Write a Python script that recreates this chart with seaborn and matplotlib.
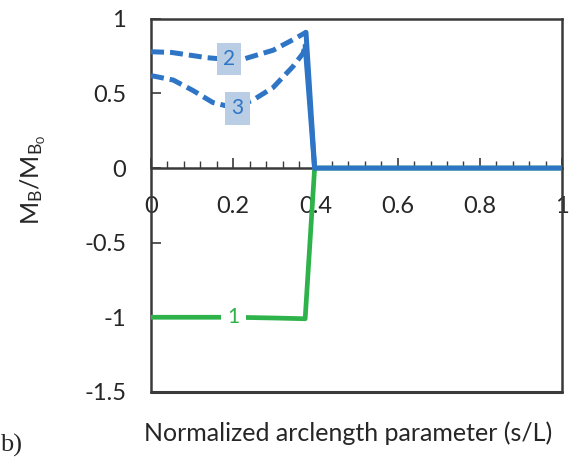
import numpy as np
import pandas as pd
import matplotlib
matplotlib.use("Agg")
import matplotlib.pyplot as plt
import seaborn as sns
from matplotlib.ticker import MultipleLocator

# curve data (s/L, M_B/M_B0)
s1 = [0.0, 0.1, 0.2, 0.3, 0.375, 0.398, 1.0]
m1 = [-1.0, -1.0, -1.0, -1.005, -1.01, 0.0, 0.0]

s2 = [0.0, 0.05, 0.136, 0.2, 0.224, 0.297, 0.345, 0.377]
m2 = [0.78, 0.775, 0.74, 0.725, 0.73, 0.79, 0.86, 0.91]

s3 = [0.0, 0.054, 0.102, 0.15, 0.2, 0.248, 0.297, 0.345, 0.37, 0.375]
m3 = [0.62, 0.59, 0.52, 0.44, 0.405, 0.456, 0.54, 0.68, 0.77, 0.82]

# solid part after the peak: drop to zero, then flat
s_drop = [0.377, 0.398, 1.0]
m_drop = [0.91, 0.0, 0.0]
s_drop3 = [0.375, 0.398]
m_drop3 = [0.82, 0.0]

xticks = [0, 0.2, 0.4, 0.6, 0.8, 1.0]
xtick_labels = ["0", "0.2", "0.4", "0.6", "0.8", "1"]
yticks = [-1.5, -1, -0.5, 0, 0.5, 1]
ytick_labels = ["-1.5", "-1", "-0.5", "0", "0.5", "1"]

blue = "#2e75c6"
green = "#2db34a"
axc = "#3a3a3a"

sns.set_theme(style="white")
plt.rcParams["font.family"] = ["Lato", "DejaVu Sans"]
plt.rcParams["mathtext.default"] = "regular"

fig = plt.figure(figsize=(5.7, 4.61), dpi=100)
ax = fig.add_axes([0.265, 0.150, 0.721, 0.809])

sns.lineplot(x=s1, y=m1, sort=False, color=green, lw=3.4, ax=ax, zorder=3)
sns.lineplot(x=s2, y=m2, sort=False, color=blue, lw=3.6, ax=ax, zorder=4)
ax.lines[-1].set_dashes((2.6, 1.2))
sns.lineplot(x=s3, y=m3, sort=False, color=blue, lw=3.6, ax=ax, zorder=4)
ax.lines[-1].set_dashes((2.6, 1.2))
sns.lineplot(x=s_drop, y=m_drop, sort=False, color=blue, lw=3.6, ax=ax, zorder=4)
sns.lineplot(x=s_drop3, y=m_drop3, sort=False, color=blue, lw=3.6, ax=ax, zorder=4)

# inline curve labels
ax.text(0.19, 0.73, "2", color=blue, fontsize=15, ha="center", va="center", zorder=5,
        bbox=dict(boxstyle="square,pad=0.3", fc="#b9cde5", ec="none"))
ax.text(0.21, 0.40, "3", color=blue, fontsize=15, ha="center", va="center", zorder=5,
        bbox=dict(boxstyle="square,pad=0.3", fc="#b9cde5", ec="none"))
ax.text(0.2, -1.0, "1", color=green, fontsize=15, ha="center", va="center", zorder=5,
        bbox=dict(boxstyle="square,pad=0.3", fc="white", ec="none"))

ax.set_xlim(0, 1)
ax.set_ylim(-1.5, 1)

for sp in ax.spines.values():
    sp.set_color(axc)
    sp.set_linewidth(1.8)
ax.spines["bottom"].set_position(("data", 0))
ax.axhline(-1.5, color=axc, lw=2.2, clip_on=False, zorder=6)

ax.xaxis.set_minor_locator(MultipleLocator(0.04))
ax.set_xticks(xticks)
ax.set_xticklabels(xtick_labels)
ax.set_yticks(yticks)
ax.set_yticklabels(ytick_labels)

ax.tick_params(axis="x", which="major", direction="in", length=7, width=1.2,
               color=axc, pad=20, labelsize=17, bottom=True)
ax.tick_params(axis="x", which="minor", direction="in", length=5, width=1.0,
               color=axc, bottom=True)
ax.tick_params(axis="y", which="major", direction="in", length=7, width=1.2,
               color=axc, pad=18, labelsize=17, left=True)

ax.set_xlabel("")
ax.set_ylabel("")
fig.text(0.058, 0.61, r"$M_B/M_{B_0}$", rotation=90, fontsize=18,
         ha="center", va="center")
fig.text(0.61, 0.061, "Normalized arclength parameter (s/L)", fontsize=18,
         ha="center", va="center")
fig.text(0.0, 0.033, "b)", fontsize=19, family="Liberation Serif",
         ha="left", va="center")

fig.savefig("out.png", dpi=100)
